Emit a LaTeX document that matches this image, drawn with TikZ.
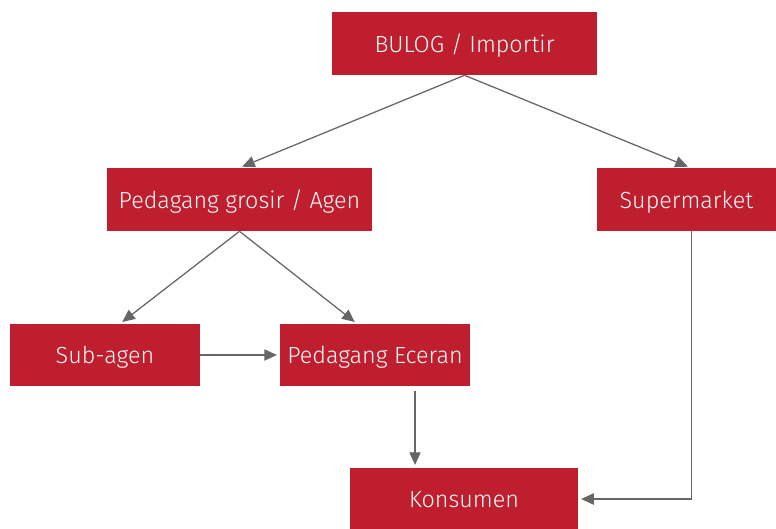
\documentclass[tikz,border=0pt]{standalone}
\usepackage{fontspec}
\setmainfont{Fira Sans Light}
\usetikzlibrary{arrows.meta}
\definecolor{boxred}{HTML}{BE1E2D}
\definecolor{linegray}{HTML}{666666}
\tikzset{
  box/.style={fill=boxred, text=white!92!pink, inner sep=0pt, text height=12.6pt, text depth=0pt, font=\fontsize{16.6}{20}\selectfont},
  flow/.style={draw=linegray, line width=0.9pt, -{Triangle[length=9pt,width=8pt]}, shorten >=2pt}
}
\begin{document}
\begin{tikzpicture}[x=0.025cm, y=-0.025cm]
\useasboundingbox (0,0) rectangle (776,528);
\node[box, minimum width=265*0.025cm, minimum height=63*0.025cm] (bulog) at (464.5,43.5) {BULOG / Importir};
\node[box, minimum width=265*0.025cm, minimum height=63*0.025cm] (grosir) at (239.5,199.5) {Pedagang grosir / Agen};
\node[box, minimum width=179*0.025cm, minimum height=63*0.025cm] (super) at (686.5,199.5) {Supermarket};
\node[box, minimum width=190*0.025cm, minimum height=62*0.025cm] (sub) at (105,355) {Sub-agen};
\node[box, minimum width=190*0.025cm, minimum height=62*0.025cm] (ecer) at (375,355) {Pedagang Eceran};
\node[box, minimum width=228*0.025cm, minimum height=62*0.025cm] (kons) at (464,499) {Konsumen};
\coordinate (ecerout) at ([xshift=40*0.025cm]ecer.south);

\draw[flow] (bulog.south) -- (grosir.north);
\draw[flow] (bulog.south) -- ([xshift=4*0.025cm]super.north);
\draw[flow] (grosir.south) -- ([xshift=15*0.025cm]sub.north);
\draw[flow] (grosir.south) -- ([xshift=-18*0.025cm]ecer.north);
\draw[flow] (sub.east) -- (ecer.west);
\draw[flow, shorten <=3pt] (ecerout) -- (ecerout |- kons.north);
\draw[flow] ([xshift=5*0.025cm]super.south) |- (kons.east);
\end{tikzpicture}
\end{document}
